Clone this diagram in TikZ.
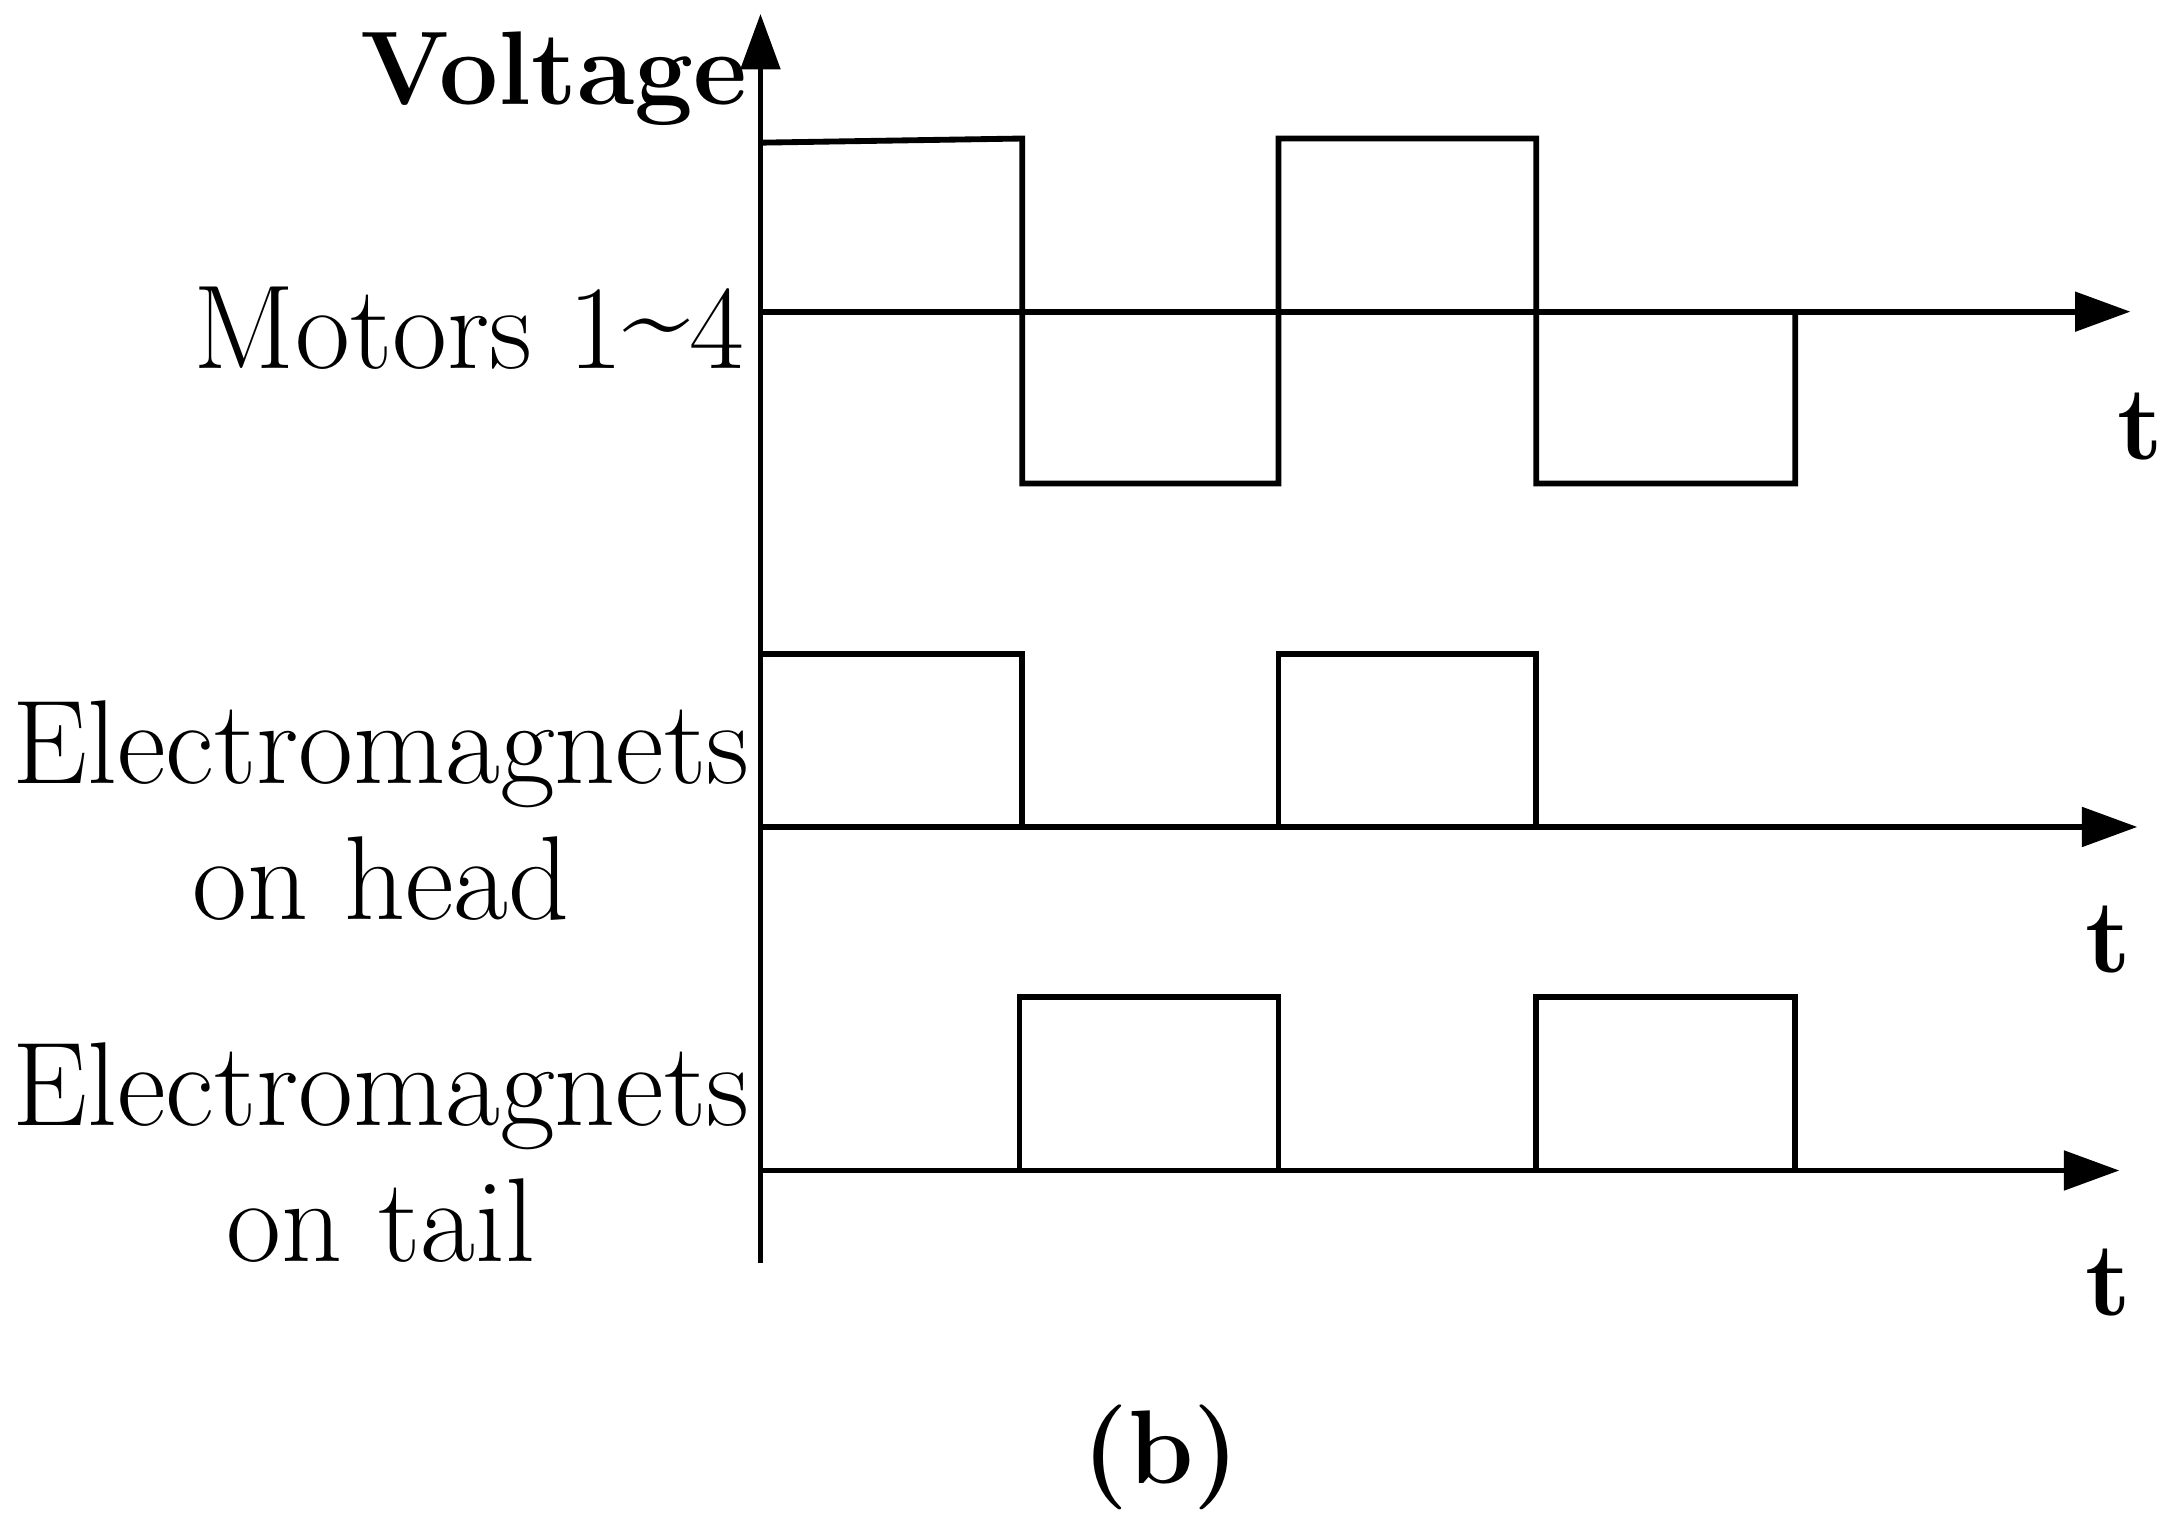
\documentclass[tikz,border=0pt]{standalone}
\usetikzlibrary{arrows.meta}
\begin{document}
\begin{tikzpicture}[x=0.01cm,y=-0.01cm,
    axis/.style = {line width=1.2pt, -{Triangle[length=0.4cm,width=0.28cm]}},
    wave/.style = {line width=1.2pt},
    lab/.style = {font=\fontsize{24.5}{28}\selectfont, inner sep=0pt},
    tlab/.style = {font=\fontsize{21.5}{26}\selectfont\bfseries, inner sep=0pt}]
  \useasboundingbox (0,0) rectangle (1568,1097);
  % axes
  \coordinate (o) at (549,912);
  \coordinate (vtop) at (549,10);
  \draw [axis] (o) -- (vtop);
  \coordinate (m0) at (549,225); \coordinate (m1) at (1538,225);
  \coordinate (h0) at (549,597); \coordinate (h1) at (1543,597);
  \coordinate (e0) at (549,845); \coordinate (e1) at (1530,845);
  \draw [axis] (m0) -- (m1);
  \draw [axis] (h0) -- (h1);
  \draw [axis] (e0) -- (e1);
  % waves
  \draw [wave] (549,103) -- (738,100) -- (738,349) -- (923,349) -- (923,100)
    -- (1109,100) -- (1109,349) -- (1296,349) -- (1296,225);
  \draw [wave] (549,472) -- (738,472) -- (738,597);
  \draw [wave] (923,597) -- (923,472) -- (1109,472) -- (1109,597);
  \draw [wave] (736,845) -- (736,720) -- (923,720) -- (923,845);
  \draw [wave] (1109,845) -- (1109,720) -- (1296,720) -- (1296,845);
  % labels
  \node [tlab, anchor=east] (volt) at (540,57) {Voltage};
  \node [lab, anchor=east] (motors) at (538,237) {Motors 1\raisebox{0.25ex}{\textasciitilde}4};
  \node [lab, align=center] (head) at (275,585) {Electromagnets\\on head};
  \node [lab, align=center] (tail) at (275,832) {Electromagnets\\on tail};
  \node [tlab] (t1) at (1545,308) {t};
  \node [tlab] (t2) at (1522,678) {t};
  \node [tlab] (t3) at (1522,926) {t};
  \node [tlab] (cap) at (838,1052) {(b)};
\end{tikzpicture}
\end{document}
